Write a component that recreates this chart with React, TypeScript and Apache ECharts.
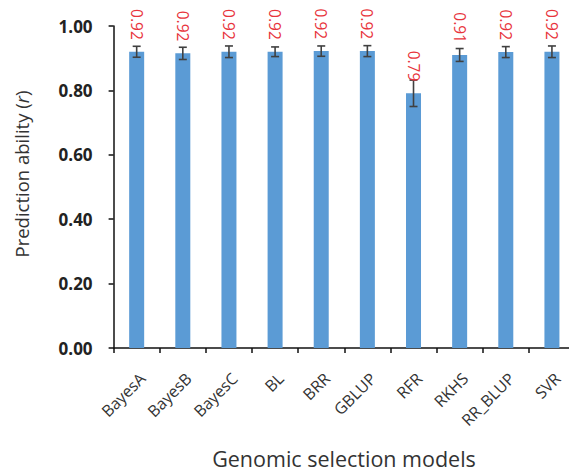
import React, { useEffect, useRef } from "react";
import * as echarts from "echarts";

const categories = ["BayesA", "BayesB", "BayesC", "BL", "BRR", "GBLUP", "RFR", "RKHS", "RR_BLUP", "SVR"];
const values = [0.92, 0.915, 0.92, 0.92, 0.922, 0.922, 0.791, 0.91, 0.919, 0.92];
const errors = [0.017, 0.019, 0.018, 0.015, 0.016, 0.017, 0.041, 0.02, 0.017, 0.018];
const labels = ["0.92", "0.92", "0.92", "0.92", "0.92", "0.92", "0.79", "0.91", "0.92", "0.92"];

const FONT = "'Open Sans', 'Liberation Sans', sans-serif";

export default function App() {
  const ref = useRef<HTMLDivElement>(null);
  useEffect(() => {
    if (!ref.current) return;
    const chart = echarts.init(ref.current, undefined, { renderer: "svg" });
    const errData = values.map((v, i) => [i, v, errors[i]]);
    chart.setOption({
      animation: false,
      backgroundColor: "#ffffff",
      grid: { left: 113.6, right: -6, top: 26, bottom: 125, containLabel: false, outerBoundsMode: "none" },
      graphic: [
        {
          type: "text",
          x: 21,
          y: 174,
          rotation: Math.PI / 2,
          style: {
            text: "Prediction ability ({i|r})",
            fill: "#333",
            fontSize: 18.5,
            fontFamily: FONT,
            align: "center",
            verticalAlign: "middle",
            rich: { i: { fontStyle: "italic", fontSize: 18.5, fill: "#333", fontFamily: FONT } },
          },
        },
        {
          type: "text",
          x: 344,
          y: 458,
          style: {
            text: "Genomic selection models",
            fill: "#333",
            fontSize: 21.5,
            lineHeight: 24,
            fontFamily: FONT,
            align: "center",
            verticalAlign: "middle",
          },
        },
      ],
      xAxis: {
        type: "category",
        data: categories,
        axisLine: { lineStyle: { color: "#111", width: 1.5 } },
        axisTick: { show: true, length: 5, lineStyle: { color: "#111", width: 1.5 } },
        axisLabel: {
          rotate: 45,
          interval: 0,
          fontSize: 16,
          color: "#333",
          fontFamily: FONT,
          margin: 22,
          align: "right",
          verticalAlign: "top",
        },
      },
      yAxis: {
        type: "value",
        min: 0,
        max: 1,
        interval: 0.2,
        splitLine: { show: false },
        axisLine: { show: true, lineStyle: { color: "#111", width: 1.5 } },
        axisTick: { show: true, length: 5, lineStyle: { color: "#111", width: 1.5 } },
        axisLabel: {
          formatter: (v: number) => v.toFixed(2),
          fontSize: 17,
          fontWeight: "bold",
          color: "#222",
          fontFamily: FONT,
          margin: 21,
        },
      },
      series: [
        {
          type: "bar",
          data: values,
          barWidth: 15,
          itemStyle: { color: "#5b9bd5" },
        },
        {
          type: "custom",
          data: errData,
          clip: false,
          z: 10,
          renderItem: (params: any, api: any) => {
            const i = api.value(0);
            const v = api.value(1);
            const e = api.value(2);
            const top = api.coord([i, v + e]);
            const bot = api.coord([i, v - e]);
            const barTop = api.coord([i, v]);
            const x = top[0];
            const cap = 4;
            const ls = { stroke: "#404040", lineWidth: 1.6 };
            return {
              type: "group",
              children: [
                { type: "line", shape: { x1: x, y1: top[1], x2: x, y2: bot[1] }, style: ls },
                { type: "line", shape: { x1: x - cap, y1: top[1], x2: x + cap, y2: top[1] }, style: ls },
                { type: "line", shape: { x1: x - cap, y1: bot[1], x2: x + cap, y2: bot[1] }, style: ls },
                {
                  type: "text",
                  x: x,
                  y: barTop[1] - 12,
                  rotation: -Math.PI / 2,
                  z2: 20,
                  style: {
                    text: labels[params.dataIndex],
                    fill: "#e8343c",
                    fontSize: 15.5,
                    fontFamily: FONT,
                    align: "right",
                    verticalAlign: "middle",
                  },
                },
              ],
            };
          },
        },
      ],
    });
    return () => chart.dispose();
  }, []);
  return <div ref={ref} style={{ position: "fixed", left: 0, top: 0, width: 569, height: 473 }} />;
}
